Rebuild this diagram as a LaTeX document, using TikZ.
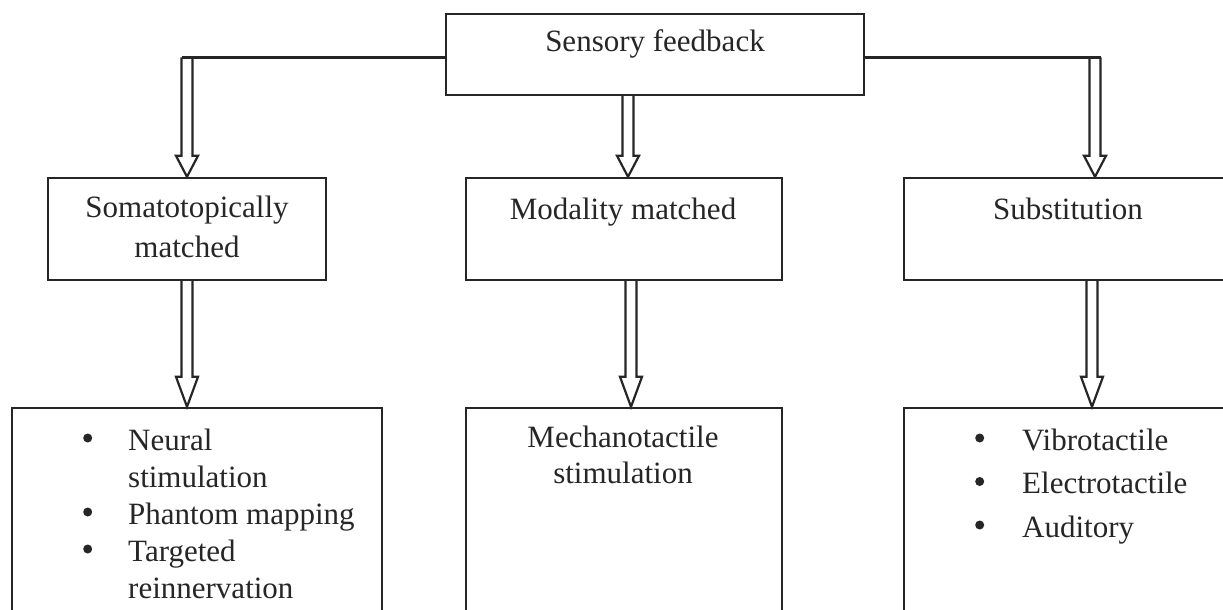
\documentclass[tikz,border=0pt]{standalone}
\usepackage{fontspec}
\setmainfont{Liberation Serif}
\usetikzlibrary{calc}
\definecolor{ink}{HTML}{262626}
\tikzset{
  box/.style={draw=ink, line width=2.4pt, rectangle, inner sep=0pt},
  conn/.style={draw=ink, line width=2.2pt, line join=miter},
  txt/.style={inner sep=0pt, anchor=base, text=ink},
}
% hollow block arrow: #1 gives the y of the shaft top, #2 the tip, #3 head length
\newcommand\harrow[3]{%
  \draw[conn] let \p1=#1, \p2=#2 in
    (\x2-5.5pt,\y1) -- (\x2-5.5pt,\y2+#3pt) -- (\x2-11pt,\y2+#3pt) -- (\x2,\y2)
    -- (\x2+11pt,\y2+#3pt) -- (\x2+5.5pt,\y2+#3pt) -- (\x2+5.5pt,\y1);}
\newcommand\blt{\raisebox{7.5pt}{\tikz[x=1pt,y=1pt,baseline=0pt]{\fill[ink] (4.5,4.5) circle (4.5);}}}
\begin{document}
\begin{tikzpicture}[x=1pt,y=-1pt]
\clip (0,0) rectangle (1223,610);
\fill[white] (0,0) rectangle (1223,610);
% boxes
\node[box, minimum width=418pt, minimum height=81pt] (top) at (655,54.5) {};
\node[box, minimum width=278pt, minimum height=102pt] (b1) at (187,229) {};
\node[box, minimum width=316pt, minimum height=102pt] (b2) at (624,229) {};
\node[box, minimum width=326pt, minimum height=102pt] (b3) at (1067,229) {};
\node[box, minimum width=370pt, minimum height=222pt] (c1) at (197,519) {};
\node[box, minimum width=316pt, minimum height=222pt] (c2) at (624,519) {};
\node[box, minimum width=326pt, minimum height=222pt] (c3) at (1067,519) {};
% texts
\node[txt, font=\fontsize{31}{40}\selectfont] (ttop) at (655,52) {\begin{tabular}[t]{@{}c@{}}Sensory feedback\end{tabular}};
\node[txt, font=\fontsize{31}{40}\selectfont] (tb1) at (187,217) {\begin{tabular}[t]{@{}c@{}}Somatotopically\\ matched\end{tabular}};
\node[txt, font=\fontsize{31}{40}\selectfont] (tb2) at (623,219) {\begin{tabular}[t]{@{}c@{}}Modality matched\end{tabular}};
\node[txt, font=\fontsize{31}{40}\selectfont] (tb3) at (1068,219) {\begin{tabular}[t]{@{}c@{}}Substitution\end{tabular}};
\node[txt, anchor=base west, font=\fontsize{31}{37}\selectfont] (tc1) at (83,450) {\begin{tabular}[t]{@{}p{45pt}@{}l@{}}\blt & Neural\\ & stimulation\\ \blt & Phantom mapping\\ \blt & Targeted\\ & reinnervation\end{tabular}};
\node[txt, font=\fontsize{31}{36}\selectfont] (tc2) at (623,447) {\begin{tabular}[t]{@{}c@{}}Mechanotactile\\ stimulation\end{tabular}};
\node[txt, anchor=base west, font=\fontsize{31}{43.5}\selectfont] (tc3) at (975,450) {\begin{tabular}[t]{@{}p{47pt}@{}l@{}}\blt & Vibrotactile\\ \blt & Electrotactile\\ \blt & Auditory\end{tabular}};
% junctions and arrow tips
\coordinate (r3) at ([xshift=28pt]b3.north);
\coordinate (tipm) at ([xshift=4pt]b2.north);
\coordinate (jl) at ([yshift=-3pt]top.west -| b1.north);
\coordinate (jr) at ([yshift=-3pt]top.east -| r3);
% connectors
\draw[conn] ([yshift=-3pt]top.west) -- ([xshift=-5.5pt]jl);
\draw[conn] ([yshift=-3pt]top.east) -- ([xshift=5.5pt]jr);
\harrow{(jl)}{(b1.north)}{21}
\harrow{(top.south)}{(tipm)}{21}
\harrow{(jr)}{(r3)}{21}
\harrow{(b1.south)}{(b1.south |- c1.north)}{30}
\harrow{(b2.south)}{([xshift=7pt]b2.south |- c2.north)}{30}
\harrow{(b3.south)}{([xshift=25pt]b3.south |- c3.north)}{30}
\end{tikzpicture}
\end{document}
